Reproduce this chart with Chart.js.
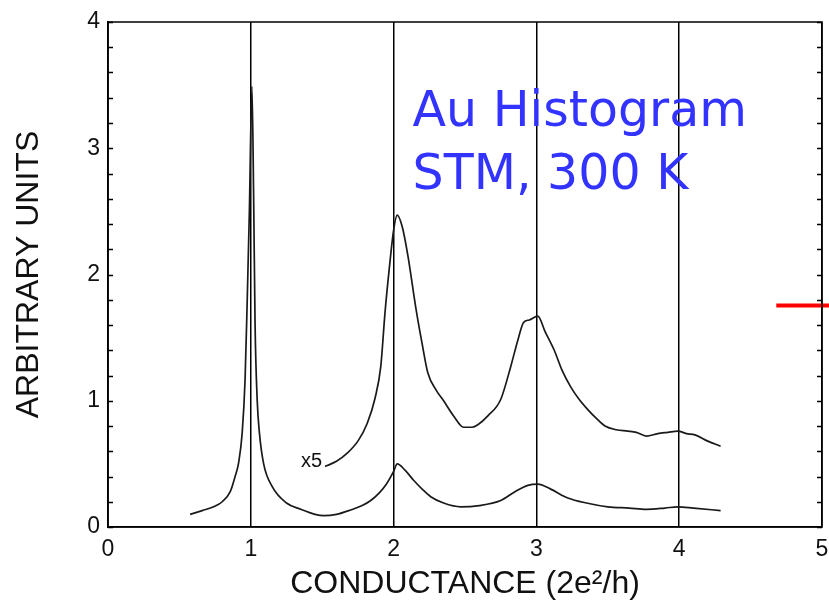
<!DOCTYPE html>
<html>
<head>
<meta charset="utf-8">
<script src="https://cdn.jsdelivr.net/npm/chart.js@4.4.1/dist/chart.umd.min.js"></script>
<style>
  html, body { margin: 0; padding: 0; background: #fff; }
  #wrap { width: 829px; height: 603px; }
</style>
</head>
<body>
<div id="wrap"><canvas id="graph" width="829" height="603"></canvas></div>
<script>
// conductance histogram, measured curve
const lowX = [0.575, 0.66, 0.74, 0.80, 0.856, 0.89, 0.915, 0.94, 0.96, 0.975, 0.99, 1.008, 1.02, 1.03, 1.045, 1.06, 1.09, 1.15, 1.25, 1.35, 1.45, 1.51, 1.60, 1.70, 1.78, 1.84, 1.90, 1.95, 2.00, 2.025, 2.08, 2.14, 2.20, 2.26, 2.35, 2.47, 2.60, 2.75, 2.85, 2.94, 3.01, 3.10, 3.22, 3.35, 3.50, 3.65, 3.77, 3.90, 3.99, 4.10, 4.29];
const lowY = [0.10, 0.13, 0.16, 0.20, 0.28, 0.40, 0.51, 0.75, 1.17, 1.8, 2.5, 3.49, 2.6, 1.6, 1.0, 0.75, 0.50, 0.32, 0.19, 0.14, 0.10, 0.09, 0.10, 0.135, 0.17, 0.21, 0.27, 0.34, 0.44, 0.50, 0.45, 0.37, 0.30, 0.24, 0.19, 0.16, 0.17, 0.21, 0.28, 0.33, 0.34, 0.30, 0.23, 0.19, 0.16, 0.15, 0.14, 0.15, 0.16, 0.15, 0.13];

// the same curve magnified x5
const highX = [1.52, 1.60, 1.675, 1.75, 1.815, 1.87, 1.91, 1.94, 1.97, 2.00, 2.025, 2.06, 2.10, 2.155, 2.20, 2.24, 2.30, 2.35, 2.42, 2.49, 2.55, 2.59, 2.66, 2.75, 2.82, 2.87, 2.91, 2.95, 3.01, 3.06, 3.125, 3.18, 3.24, 3.30, 3.36, 3.42, 3.48, 3.56, 3.64, 3.70, 3.77, 3.85, 3.92, 3.99, 4.05, 4.11, 4.20, 4.29];
const highY = [0.48, 0.52, 0.585, 0.68, 0.82, 1.02, 1.27, 1.70, 2.05, 2.35, 2.47, 2.38, 2.15, 1.74, 1.45, 1.22, 1.08, 1.00, 0.88, 0.79, 0.79, 0.81, 0.88, 1.01, 1.27, 1.48, 1.62, 1.64, 1.67, 1.55, 1.40, 1.24, 1.11, 1.01, 0.93, 0.86, 0.80, 0.77, 0.76, 0.75, 0.72, 0.74, 0.75, 0.76, 0.74, 0.73, 0.68, 0.64];

// red marker at the right edge
const markX = [4.68, 5.06];
const markY = [1.755, 1.755];

const xTicks = [0, 1, 2, 3, 4, 5];
const yLabels = [0, 1, 2, 3, 4];

const noteLines = ['Au Histogram', 'STM, 300 K'];
const noteAt = { x: 2.133, y: [3.175, 2.675] };
const gainLabel = 'x5';
const gainAt = { x: 1.50, y: 0.52 };

const toPoints = (xs, ys) => xs.map((x, i) => ({ x: x, y: ys[i] }));

const frame = {
  id: 'frame',
  afterDatasetsDraw(chart) {
    const { ctx, chartArea: a, scales } = chart;
    ctx.save();
    ctx.strokeStyle = '#000';
    ctx.lineWidth = 1.5;
    ctx.strokeRect(a.left, a.top, a.right - a.left, a.bottom - a.top);
    // inward minor ticks on both sides
    scales.y.ticks.forEach(t => {
      const py = Math.round(scales.y.getPixelForValue(t.value)) + 0.5;
      ctx.beginPath();
      ctx.moveTo(a.left, py); ctx.lineTo(a.left + 5, py);
      ctx.moveTo(a.right, py); ctx.lineTo(a.right - 5, py);
      ctx.stroke();
    });
    ctx.restore();
  },
  afterDraw(chart) {
    const { ctx, scales } = chart;
    ctx.save();
    ctx.fillStyle = '#3333ff';
    ctx.font = '49px "Comic Sans MS", "DejaVu Sans", sans-serif';
    ctx.textBaseline = 'alphabetic';
    ctx.textAlign = 'left';
    noteLines.forEach((t, i) => {
      ctx.fillText(t, scales.x.getPixelForValue(noteAt.x), scales.y.getPixelForValue(noteAt.y[i]));
    });
    ctx.fillStyle = '#111';
    ctx.font = '20px "Liberation Sans", Arial, sans-serif';
    ctx.textAlign = 'right';
    ctx.textBaseline = 'middle';
    ctx.fillText(gainLabel, scales.x.getPixelForValue(gainAt.x), scales.y.getPixelForValue(gainAt.y));
    ctx.restore();
  }
};

const tickFont = { family: '"Liberation Sans", Arial, sans-serif', size: 23 };
const titleFont = { family: '"Liberation Sans", Arial, sans-serif', size: 32 };

new Chart(document.getElementById('graph').getContext('2d'), {
  type: 'line',
  data: {
    datasets: [
      {
        label: 'G',
        data: toPoints(lowX, lowY),
        borderColor: '#1a1a1a',
        borderWidth: 1.7,
        pointRadius: 0,
        cubicInterpolationMode: 'monotone',
        fill: false
      },
      {
        label: 'G x5',
        data: toPoints(highX, highY),
        borderColor: '#1a1a1a',
        borderWidth: 1.7,
        pointRadius: 0,
        cubicInterpolationMode: 'monotone',
        fill: false
      },
      {
        label: 'mark',
        data: toPoints(markX, markY),
        borderColor: '#ff0000',
        borderWidth: 4,
        pointRadius: 0,
        clip: false,
        fill: false
      }
    ]
  },
  options: {
    responsive: false,
    animation: false,
    events: [],
    layout: { padding: { top: 22, right: 0, left: 0, bottom: 0 } },
    plugins: { legend: { display: false }, tooltip: { enabled: false } },
    scales: {
      x: {
        type: 'linear',
        min: 0,
        max: 5,
        afterFit: s => { s.height = 76; s.paddingRight = 7; s.paddingLeft = 0; },
        afterBuildTicks: s => { s.ticks = xTicks.map(v => ({ value: v })); },
        grid: { color: '#000', lineWidth: 1.5, drawTicks: false },
        border: { color: '#000', width: 1.5 },
        ticks: { color: '#111', font: tickFont, padding: 9, maxRotation: 0 },
        title: {
          display: true,
          text: 'CONDUCTANCE (2e\u00B2/h)',
          color: '#111',
          font: titleFont,
          padding: { top: 0, bottom: 0 }
        }
      },
      y: {
        min: 0,
        max: 4,
        afterFit: s => { s.width = 108; },
        grid: { display: false, drawTicks: false },
        border: { color: '#000', width: 1.5 },
        ticks: {
          stepSize: 0.2,
          autoSkip: false,
          color: '#111',
          font: tickFont,
          padding: 8,
          callback: v => {
            const r = Math.round(v * 1000) / 1000;
            return yLabels.includes(r) ? String(r) : '';
          }
        },
        title: {
          display: true,
          text: 'ARBITRARY UNITS',
          color: '#111',
          font: titleFont,
          padding: { top: 10, bottom: 0 }
        }
      }
    }
  },
  plugins: [frame]
});
</script>
</body>
</html>
